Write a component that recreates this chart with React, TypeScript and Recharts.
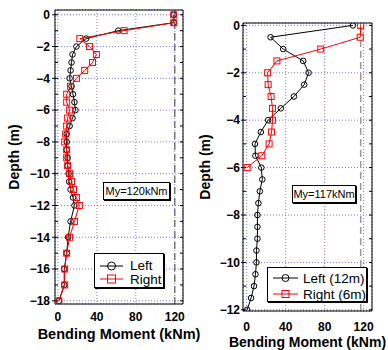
import {
  CartesianGrid,
  Legend,
  ReferenceLine,
  Scatter,
  ScatterChart,
  XAxis,
  YAxis,
} from 'recharts';

// left plot: both piles to 18 m
const DEPTH_A = [0, -0.5, -1, -1.5, -2, -2.5, -3, -3.5, -4, -4.5, -5, -5.5, -6, -6.5, -7, -7.5, -8, -8.5, -9, -9.5, -10, -10.5, -11, -11.5, -12, -13, -14, -15, -16, -17, -18];
const LEFT_A = [119, 119, 62, 29, 19, 15, 14, 13, 12, 14, 15.5, 17, 18, 15, 12, 9, 9, 9, 10, 10, 11, 11.5, 13, 15.5, 17, 13, 10.5, 9, 6.5, 6.5, 1];
const RIGHT_A = [119, 119, 68, 22.5, 32.5, 39.5, 35.5, 27.5, 19, 13, 9, 9, 12, 10, 9, 8, 7, 9, 9, 10, 12, 14, 16, 19, 22, 17, 12, 9, 7, 7, 1];

// right plot: 12 m pile and 6 m pile
const DEPTH_B_LEFT = [0, -0.5, -1, -1.5, -2, -2.5, -3, -3.5, -4, -4.5, -5, -5.5, -6, -6.5, -7, -7.5, -8, -8.5, -9, -9.5, -10, -10.5, -11, -11.5, -12];
const LEFT_B = [109, 24.5, 37.5, 58, 63.5, 59, 48.5, 35, 22, 14.5, 8.5, 9, 15, 16, 13.5, 12, 11, 11, 11, 10, 10, 9, 7.5, 4.5, 0.5];
const DEPTH_B_RIGHT = [0, -0.5, -1, -1.5, -2, -2.5, -3, -3.5, -4, -4.5, -5, -5.5, -6];
const RIGHT_B = [117, 116.5, 76, 31, 21.5, 22, 25, 26.5, 26.5, 25.5, 23, 15.5, 0.5];

const X_TICKS = [0, 40, 80, 120];
const X_MINOR_A = [0, 10, 20, 30, 40, 50, 60, 70, 80, 90, 100, 110, 120];
const X_MINOR_B = [0, 5, 10, 15, 20, 25, 30, 35, 40, 45, 50, 55, 60, 65, 70, 75, 80, 85, 90, 95, 100, 105, 110, 115, 120, 125];
const Y_TICKS_A = [0, -2, -4, -6, -8, -10, -12, -14, -16, -18];
const Y_MINOR_A = [0, -1, -2, -3, -4, -5, -6, -7, -8, -9, -10, -11, -12, -13, -14, -15, -16, -17, -18];
const Y_TICKS_B = [0, -2, -4, -6, -8, -10, -12];
const Y_MINOR_B = [0, -1, -2, -3, -4, -5, -6, -7, -8, -9, -10, -11, -12];

const FONT = '"Liberation Sans", Arial, sans-serif';
const tickStyle = { fontSize: 12, fontWeight: 'bold', fill: '#000', fontFamily: FONT };
const minus = (v: number) => String(v).replace('-', '\u2212');
const blank = () => '';
const titleStyle = (size: number) => ({ fontSize: size, fontWeight: 'bold', fill: '#000', fontFamily: FONT, textAnchor: 'middle' as const });

type Series = { name: string; depth: number[]; moment: number[]; color: string; marker: 'circle' | 'square' };

const toPoints = (depth: number[], moment: number[]) => depth.map((d, i) => ({ depth: d, moment: moment[i] }));

function Marker({ cx, cy, kind, color, size }: { cx: number; cy: number; kind: string; color: string; size: number }) {
  if (kind === 'circle') {
    return <circle cx={cx} cy={cy} r={size / 2} fill="none" stroke={color} strokeWidth={1} />;
  }
  return <rect x={cx - size / 2} y={cy - size / 2} width={size} height={size} fill="none" stroke={color} strokeWidth={1} />;
}

function LegendBox({ series, lineLen, gap, fontSize, rowH, padTop, markerSize }: {
  series: Series[]; lineLen: number; gap: number; fontSize: number; rowH: number; padTop: number; markerSize: number;
}) {
  return (
    <div
      style={{
        width: '100%',
        height: '100%',
        boxSizing: 'border-box',
        border: '1px solid #000',
        boxShadow: '1px 1px 0 #000',
        background: '#fff',
        padding: `${padTop}px 0 0 5px`,
        fontFamily: FONT,
        fontSize,
        color: '#000',
      }}
    >
      {series.map((s) => (
        <div key={s.name} style={{ display: 'flex', alignItems: 'center', height: rowH, whiteSpace: 'nowrap' }}>
          <svg width={lineLen} height={12}>
            <line x1={0} x2={lineLen} y1={6} y2={6} stroke={s.color} strokeWidth={1} />
            <Marker cx={lineLen / 2} cy={6} kind={s.marker} color={s.color} size={markerSize} />
          </svg>
          <span style={{ marginLeft: gap }}>{s.name}</span>
        </div>
      ))}
    </div>
  );
}

type ChartProps = {
  left: number;
  width: number;
  margin: { top: number; right: number; bottom: number; left: number };
  yAxisWidth: number;
  xAxisHeight: number;
  xDomain: [number, number];
  yDomain: [number, number];
  yTicks: number[];
  yMinor: number[];
  xMinor: number[];
  xTickMargin: number;
  yTickSize: number;
  yTickMargin: number;
  xLabelOffset: number;
  xLabelSize: number;
  yLabelOffset: number;
  series: Series[];
  myValue: number;
  myStroke: string;
  myText: string;
  myBox: { left: number; top: number; width: number; height: number };
  legendBox: { left: number; top: number; width: number; height: number };
  legend: { lineLen: number; gap: number; fontSize: number; rowH: number; padTop: number; markerSize: number };
};

function ProfileChart(p: ChartProps) {
  return (
    <div style={{ position: 'absolute', left: p.left, top: 0, width: p.width, height: 350 }}>
      <ScatterChart width={p.width} height={350} margin={p.margin}>
        <CartesianGrid stroke="#7a7af0" strokeDasharray="1 2" />
        <XAxis
          type="number"
          dataKey="moment"
          domain={p.xDomain}
          allowDataOverflow
          ticks={X_TICKS}
          interval={0}
          height={p.xAxisHeight}
          stroke="#000"
          tickLine={false}
          tickSize={0}
          tickMargin={p.xTickMargin}
          tick={tickStyle}
          label={{ value: 'Bending Moment (kNm)', position: 'insideBottom', offset: p.xLabelOffset, style: titleStyle(p.xLabelSize) }}
        />
        <XAxis xAxisId="bottomTicks" type="number" orientation="bottom" mirror domain={p.xDomain} allowDataOverflow ticks={p.xMinor} interval={0} stroke="#000" tickSize={3} axisLine={false} tickFormatter={blank} />
        <XAxis xAxisId="top" type="number" orientation="top" mirror domain={p.xDomain} allowDataOverflow ticks={p.xMinor} interval={0} stroke="#000" tickSize={3} tickFormatter={blank} />
        <YAxis
          type="number"
          dataKey="depth"
          domain={p.yDomain}
          allowDataOverflow
          ticks={p.yTicks}
          interval={0}
          width={p.yAxisWidth}
          stroke="#000"
          tickSize={p.yTickSize}
          tickMargin={p.yTickMargin}
          tick={tickStyle}
          tickFormatter={minus}
          label={{ value: 'Depth (m)', angle: -90, position: 'insideLeft', offset: p.yLabelOffset, style: titleStyle(14) }}
        />
        <YAxis yAxisId="leftTicks" type="number" orientation="left" mirror domain={p.yDomain} allowDataOverflow ticks={p.yMinor} interval={0} stroke="#000" tickSize={3} axisLine={false} tickFormatter={blank} />
        <YAxis yAxisId="right" type="number" orientation="right" mirror domain={p.yDomain} allowDataOverflow ticks={p.yMinor} interval={0} stroke="#000" tickSize={3} tickFormatter={blank} />
        <ReferenceLine x={p.myValue} stroke={p.myStroke} strokeWidth={1.5} strokeDasharray="7 4" />
        {p.series.map((s) => (
          <Scatter
            key={s.name}
            name={s.name}
            data={toPoints(s.depth, s.moment)}
            fill={s.color}
            line={{ stroke: s.color, strokeWidth: 1 }}
            shape={(props: any) => <Marker cx={props.cx} cy={props.cy} kind={s.marker} color={s.color} size={s.marker === 'circle' ? 5.6 : 6} />}
            isAnimationActive={false}
          />
        ))}
        <Legend
          layout="vertical"
          align="center"
          verticalAlign="middle"
          wrapperStyle={{ ...p.legendBox, margin: 0, padding: 0 }}
          content={() => <LegendBox series={p.series} {...p.legend} />}
        />
      </ScatterChart>
      <div
        style={{
          position: 'absolute',
          ...p.myBox,
          boxSizing: 'border-box',
          border: '1px solid #000',
          boxShadow: '1px 1px 0 #000',
          background: '#fff',
          fontFamily: FONT,
          fontSize: 11,
          lineHeight: `${p.myBox.height - 2}px`,
          textAlign: 'center',
          color: '#000',
          whiteSpace: 'nowrap',
        }}
      >
        {p.myText}
      </div>
    </div>
  );
}

export default function App() {
  const seriesA: Series[] = [
    { name: 'Left', depth: DEPTH_A, moment: LEFT_A, color: '#000', marker: 'circle' },
    { name: 'Right', depth: DEPTH_A, moment: RIGHT_A, color: '#ff0000', marker: 'square' },
  ];
  const seriesB: Series[] = [
    { name: 'Left (12m)', depth: DEPTH_B_LEFT, moment: LEFT_B, color: '#000', marker: 'circle' },
    { name: 'Right (6m)', depth: DEPTH_B_RIGHT, moment: RIGHT_B, color: '#ff0000', marker: 'square' },
  ];
  return (
    <div style={{ position: 'absolute', left: 0, top: 0, width: 388, height: 350, background: '#fff', overflow: 'hidden' }}>
      <style>{'.recharts-surface { overflow: visible; }'}</style>
      <ProfileChart
        left={0}
        width={190}
        margin={{ top: 10, right: 7, bottom: 0, left: 0 }}
        yAxisWidth={55}
        xAxisHeight={46}
        xDomain={[-3, 128.5]}
        yDomain={[-18.2, 0.3]}
        yTicks={Y_TICKS_A}
        yMinor={Y_MINOR_A}
        xMinor={X_MINOR_A}
        xTickMargin={8}
        yTickSize={3}
        yTickMargin={2}
        xLabelOffset={11}
        xLabelSize={14.5}
        yLabelOffset={14}
        series={seriesA}
        myValue={120}
        myStroke="#777"
        myText="My=120kNm"
        myBox={{ left: 103, top: 182, width: 67, height: 18 }}
        legendBox={{ left: 94, top: 253, width: 70, height: 35 }}
        legend={{ lineLen: 23, gap: 7, fontSize: 13.5, rowH: 13.5, padTop: 5, markerSize: 8 }}
      />
      <ProfileChart
        left={190}
        width={198}
        margin={{ top: 23, right: 16, bottom: 0, left: 0 }}
        yAxisWidth={53}
        xAxisHeight={39}
        xDomain={[-3.8, 128.6]}
        yDomain={[-12.05, 0.1]}
        yTicks={Y_TICKS_B}
        yMinor={Y_MINOR_B}
        xMinor={X_MINOR_B}
        xTickMargin={11}
        yTickSize={2}
        yTickMargin={1}
        xLabelOffset={3}
        xLabelSize={14}
        yLabelOffset={15}
        series={seriesB}
        myValue={117}
        myStroke="#999"
        myText="My=117kNm"
        myBox={{ left: 102, top: 185, width: 64, height: 18 }}
        legendBox={{ left: 77, top: 267, width: 100, height: 35 }}
        legend={{ lineLen: 25, gap: 5, fontSize: 13.5, rowH: 16, padTop: 2, markerSize: 7 }}
      />
    </div>
  );
}
